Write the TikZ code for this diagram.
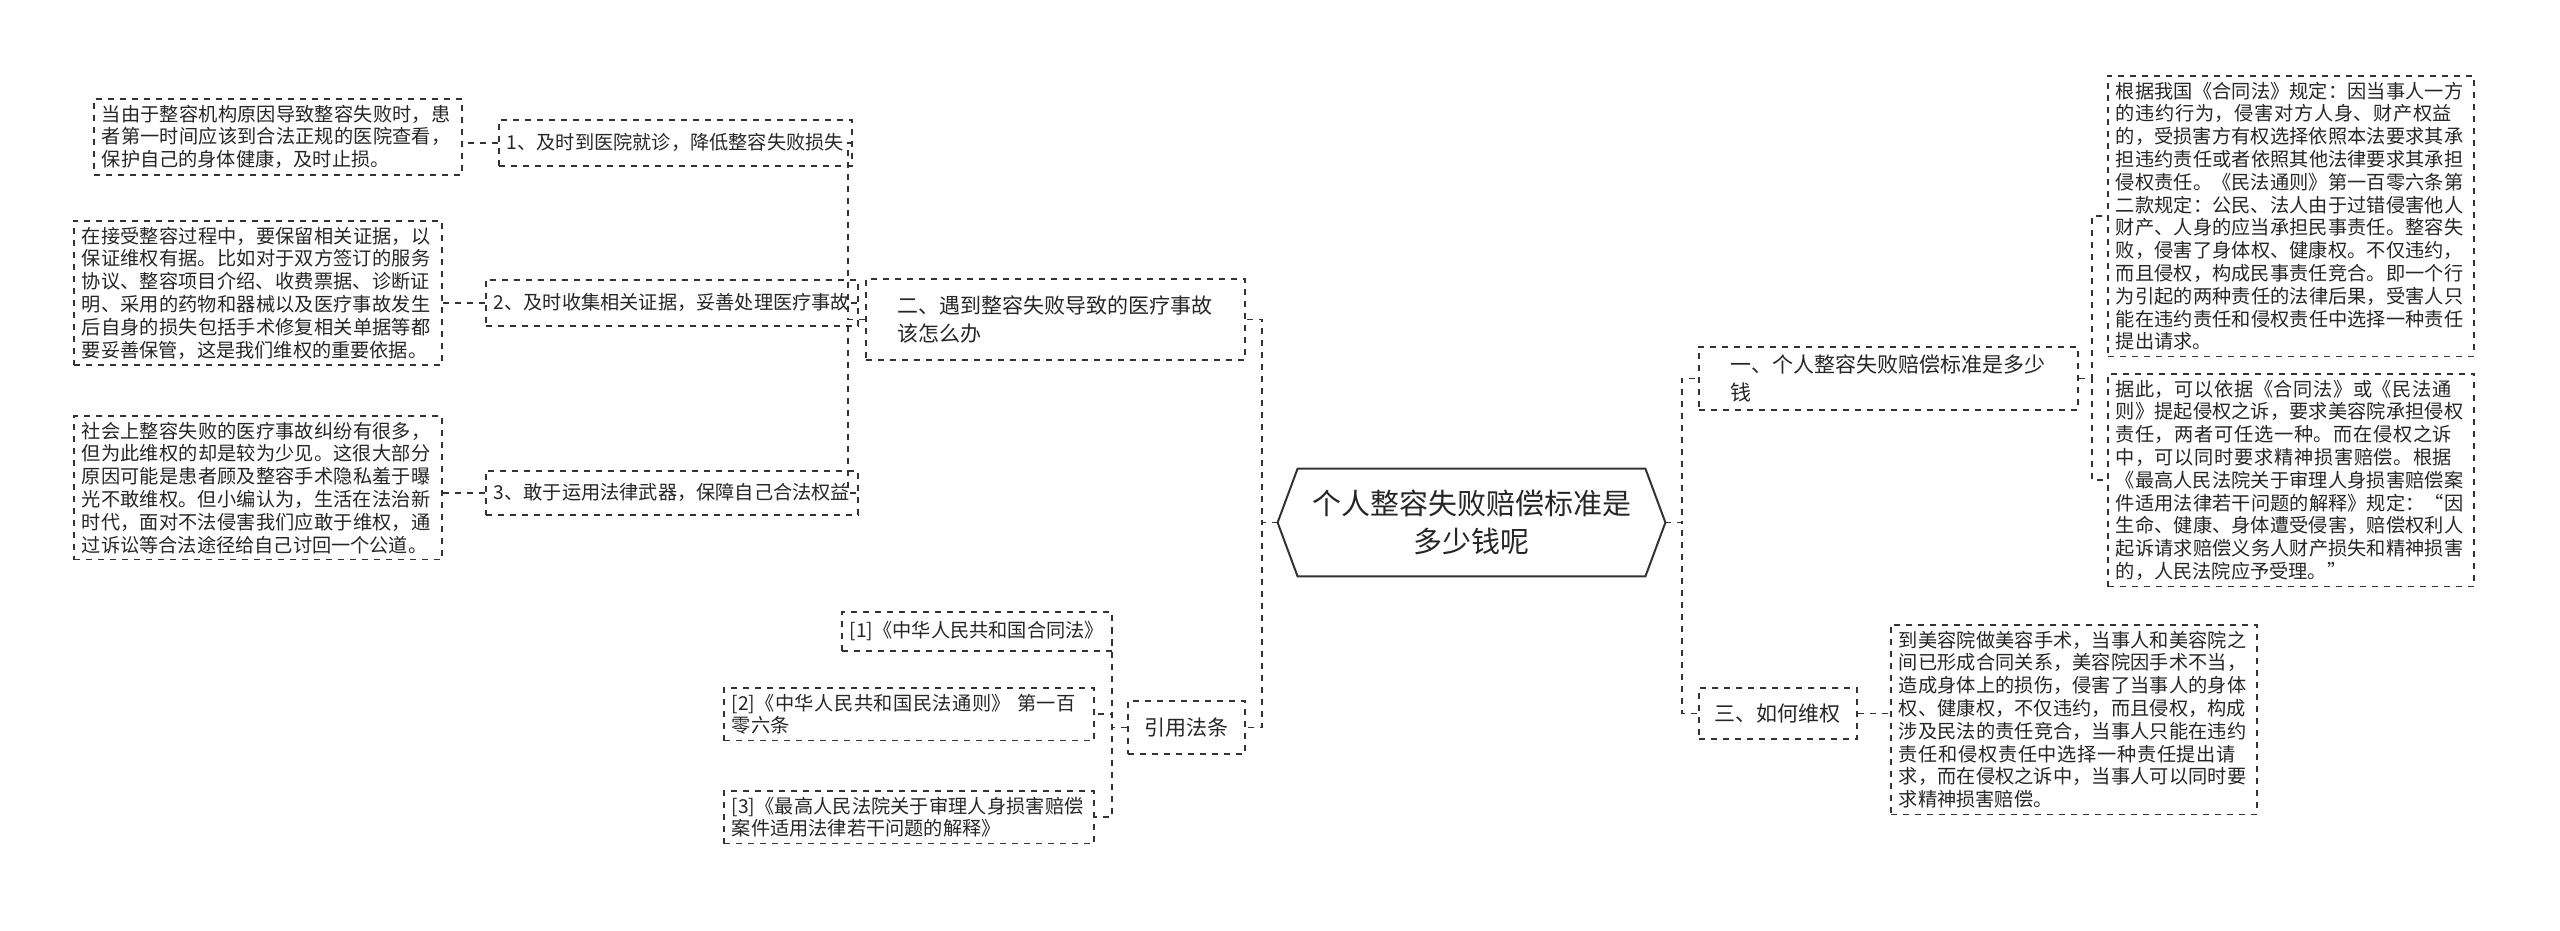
\documentclass[tikz,border=0pt]{standalone}
\usepackage{fontspec}
\setmainfont{Noto Sans CJK SC}
\XeTeXlinebreaklocale "zh"
\XeTeXlinebreakskip=0pt plus 1pt
\usetikzlibrary{calc}
\begin{document}
\begin{tikzpicture}[x=0.5pt,y=-0.5pt,
  box/.style={draw=black!80,dashed,line width=0.8pt,anchor=north west,align=left,inner xsep=4pt,inner ysep=3pt,font=\fontsize{9.6}{11.4}\selectfont,text=black!85},
  mid/.style={box,font=\fontsize{10.5}{14}\selectfont,inner ysep=4pt},
  ln/.style={draw=black!80,dashed,line width=0.8pt}]
\useasboundingbox (0,0) rectangle (2560,931);
% center
\node[align=center,font=\fontsize{14.5}{19}\selectfont,text=black!85,minimum width=193.5pt,minimum height=53.5pt] (c) at (1471.5,522.5) {个人整容失败赔偿标准是\\多少钱呢};
\draw[black!80,line width=1pt] (c.west) -- ($(c.north west)+(20,0)$) -- ($(c.north east)+(-20,0)$) -- (c.east) -- ($(c.south east)+(-20,0)$) -- ($(c.south west)+(20,0)$) -- cycle;
% right
\node[mid,minimum width=189.5pt,minimum height=24pt] (r1) at (1698,346) {一、个人整容失败赔偿标准是多少\\钱};
\node[box,text width=175pt] (d1) at (2107,75) {根据我国《合同法》规定：因当事人一方的违约行为，侵害对方人身、财产权益的，受损害方有权选择依照本法要求其承担违约责任或者依照其他法律要求其承担侵权责任。《民法通则》第一百零六条第二款规定：公民、法人由于过错侵害他人财产、人身的应当承担民事责任。整容失败，侵害了身体权、健康权。不仅违约，而且侵权，构成民事责任竞合。即一个行为引起的两种责任的法律后果，受害人只能在违约责任和侵权责任中选择一种责任提出请求。};
\node[box,text width=175pt] (d2) at (2107,373) {据此，可以依据《合同法》或《民法通则》提起侵权之诉，要求美容院承担侵权责任，两者可任选一种。而在侵权之诉中，可以同时要求精神损害赔偿。根据《最高人民法院关于审理人身损害赔偿案件适用法律若干问题的解释》规定：“因生命、健康、身体遭受侵害，赔偿权利人起诉请求赔偿义务人财产损失和精神损害的，人民法院应予受理。”};
\node[mid,minimum width=79pt,minimum height=25.5pt] (r3) at (1698,687) {三、如何维权};
\node[box,text width=175pt] (d3) at (1890,624) {到美容院做美容手术，当事人和美容院之间已形成合同关系，美容院因手术不当，造成身体上的损伤，侵害了当事人的身体权、健康权，不仅违约，而且侵权，构成涉及民法的责任竞合，当事人只能在违约责任和侵权责任中选择一种责任提出请求，而在侵权之诉中，当事人可以同时要求精神损害赔偿。};
% left
\node[mid,minimum width=189.5pt,minimum height=40.5pt] (l2) at (865,278) {二、遇到整容失败导致的医疗事故\\该怎么办};
\node[box,minimum width=167.5pt,minimum height=23pt] (i1) at (498,119) {1、及时到医院就诊，降低整容失败损失};
\node[box,minimum width=174pt,minimum height=23pt] (i2) at (485,279) {2、及时收集相关证据，妥善处理医疗事故};
\node[box,minimum width=174pt,minimum height=22pt] (i3) at (485,470) {3、敢于运用法律武器，保障自己合法权益};
\node[box,text width=176pt] (e1) at (93,98) {当由于整容机构原因导致整容失败时，患者第一时间应该到合法正规的医院查看，保护自己的身体健康，及时止损。};
\node[box,text width=176pt] (e2) at (73,220) {在接受整容过程中，要保留相关证据，以保证维权有据。比如对于双方签订的服务协议、整容项目介绍、收费票据、诊断证明、采用的药物和器械以及医疗事故发生后自身的损失包括手术修复相关单据等都要妥善保管，这是我们维权的重要依据。};
\node[box,text width=176pt] (e3) at (73,415) {社会上整容失败的医疗事故纠纷有很多，但为此维权的却是较为少见。这很大部分原因可能是患者顾及整容手术隐私羞于曝光不敢维权。但小编认为，生活在法治新时代，面对不法侵害我们应敢于维权，通过诉讼等合法途径给自己讨回一个公道。};
\node[mid,minimum width=58.5pt,minimum height=26.5pt] (l3) at (1127,700) {引用法条};
\node[box,minimum width=128pt,minimum height=19.5pt] (f1) at (841,611) {[1]《中华人民共和国合同法》};
\node[box,text width=177pt] (f2) at (723,687) {[2]《中华人民共和国民法通则》 第一百零六条};
\node[box,text width=177pt] (f3) at (723,790) {[3]《最高人民法院关于审理人身损害赔偿案件适用法律若干问题的解释》};
% connectors
\coordinate (bl) at (1262,0); \coordinate (br) at (1682,0);
\foreach \n in {l2,l3} \draw[ln] (c.west) -- (c.west -| bl) |- (\n.east);
\foreach \n in {r1,r3} \draw[ln] (c.east) -- (c.east -| br) |- (\n.west);
\coordinate (b2) at (848,0);
\foreach \n in {i1,i2,i3} \draw[ln] (l2.west) -- (l2.west -| b2) |- (\n.east);
\coordinate (b1) at (2092,0);
\foreach \n in {d1,d2} \draw[ln] (r1.east) -- (r1.east -| b1) |- (\n.west);
\draw[ln] (r3.east) -- (d3.west |- r3.east);
\coordinate (b3) at (1112,0);
\foreach \n in {f1,f2,f3} \draw[ln] (l3.west) -- (l3.west -| b3) |- (\n.east);
\draw[ln] (i1.west) -- (e1.east |- i1.west);
\draw[ln] (i2.west) -- (e2.east |- i2.west);
\draw[ln] (i3.west) -- (e3.east |- i3.west);
\end{tikzpicture}
\end{document}
